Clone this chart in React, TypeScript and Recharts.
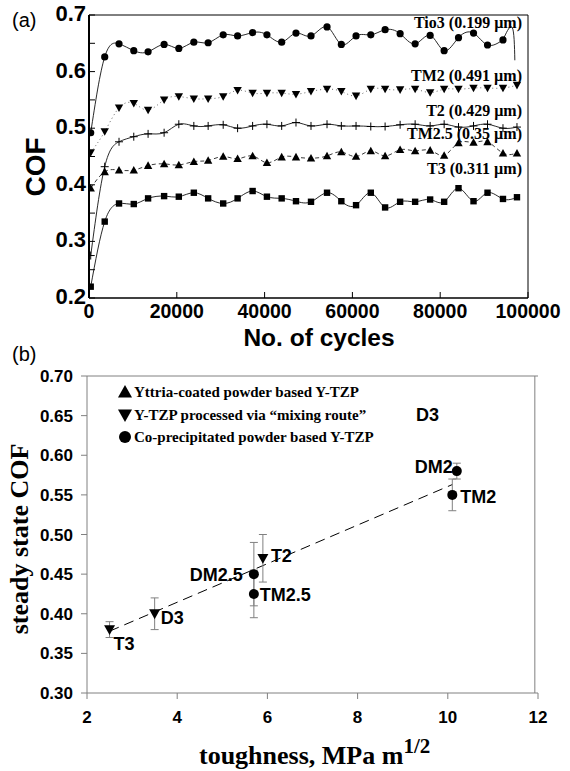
import React from 'react';
import { ComposedChart, Line, Scatter, XAxis, YAxis, ErrorBar, ReferenceLine } from 'recharts';

const SANS = '"Liberation Sans", Arial, sans-serif';
const SERIF = '"Liberation Serif", "Times New Roman", serif';

// (a) COF against number of cycles
const cycles = [390, 3580, 6840, 10200, 13460, 17110, 20460, 23880, 27140, 30570, 33850, 37270, 40530, 43890, 47150,
  50570, 54220, 57480, 60830, 64190, 67450, 70870, 74290, 77710, 80900, 84170, 87590, 90780, 94300, 97490];

const tio3 = [0.492, 0.626, 0.649, 0.637, 0.635, 0.648, 0.641, 0.652, 0.651, 0.665, 0.663, 0.669, 0.665, 0.652, 0.668,
  0.663, 0.679, 0.648, 0.663, 0.665, 0.674, 0.667, 0.649, 0.664, 0.637, 0.660, 0.668, 0.647, 0.656];
const tio3TailCycles = [94300, 96400, 97000];
const tio3TailCof = [0.656, 0.678, 0.62];
const tm2 = [0.457, 0.494, 0.536, 0.544, 0.532, 0.550, 0.556, 0.552, 0.552, 0.556, 0.567, 0.562, 0.562, 0.562, 0.560,
  0.565, 0.569, 0.565, 0.557, 0.569, 0.569, 0.568, 0.569, 0.563, 0.569, 0.569, 0.571, 0.571, 0.571, 0.576];
const t2 = [0.275, 0.432, 0.476, 0.485, 0.490, 0.492, 0.507, 0.504, 0.504, 0.506, 0.500, 0.504, 0.507, 0.504, 0.510,
  0.504, 0.507, 0.504, 0.504, 0.503, 0.503, 0.506, 0.507, 0.504, 0.507, 0.502, 0.504, 0.507, 0.500, 0.502];
const tm25 = [0.394, 0.423, 0.426, 0.426, 0.434, 0.437, 0.435, 0.441, 0.443, 0.450, 0.446, 0.451, 0.439, 0.449, 0.449,
  0.447, 0.451, 0.458, 0.450, 0.460, 0.451, 0.462, 0.460, 0.461, 0.452, 0.474, 0.475, 0.476, 0.456, 0.456];
const t3 = [0.220, 0.335, 0.367, 0.366, 0.376, 0.380, 0.379, 0.386, 0.376, 0.367, 0.376, 0.389, 0.379, 0.376, 0.371,
  0.370, 0.386, 0.371, 0.364, 0.386, 0.360, 0.370, 0.370, 0.374, 0.370, 0.394, 0.371, 0.386, 0.375, 0.378];

const xTicksA = [0, 20000, 40000, 60000, 80000, 100000];
const yTicksA = [0.2, 0.25, 0.3, 0.35, 0.4, 0.45, 0.5, 0.55, 0.6, 0.65, 0.7];
const curveLabels = ['Tio3 (0.199 µm)', 'TM2 (0.491 µm)', 'T2 (0.429 µm)', 'TM2.5 (0.35 µm)', 'T3 (0.311 µm)'];

// (b) steady state COF against toughness
const mixNames = ['T3', 'D3', 'T2'];
const mixTough = [2.5, 3.5, 5.9];
const mixCof = [0.38, 0.40, 0.47];
const mixErr = [0.01, 0.02, 0.03];
const coNames = ['DM2.5', 'TM2.5', 'DM2', 'TM2'];
const coTough = [5.7, 5.7, 10.2, 10.1];
const coCof = [0.45, 0.425, 0.58, 0.55];
const coErr = [0.04, 0.03, 0.01, 0.02];
const trendTough = [2.5, 10.1];
const trendCof = [0.378, 0.563];
const legendItems = ['Yttria-coated powder based Y-TZP', 'Y-TZP processed via “mixing route”', 'Co-precipitated powder based Y-TZP'];
const xTicksB = [2, 4, 6, 8, 10, 12];
const yTicksB = [0.3, 0.35, 0.4, 0.45, 0.5, 0.55, 0.6, 0.65, 0.7];

const pts = (xs: number[], ys: number[]) => ys.map((y, i) => ({ x: xs[i], y }));
const ptsErr = (names: string[], xs: number[], ys: number[], errs: number[]) =>
  names.map((name, i) => ({ name, x: xs[i], y: ys[i], err: errs[i] }));

// label offsets next to the markers in (b)
const labelPlace: Record<string, [number, number, 'start' | 'end']> = {
  T3: [4, 14, 'start'],
  D3: [6, 4, 'start'],
  T2: [8, -3, 'start'],
  'DM2.5': [-11, 0, 'end'],
  'TM2.5': [6, 1, 'start'],
  DM2: [-4, -5, 'end'],
  TM2: [8, 2, 'start'],
};

const triPath = (cx: number, cy: number, s: number, down: boolean) =>
  down
    ? `M${cx - s},${cy - s * 0.8}L${cx + s},${cy - s * 0.8}L${cx},${cy + s}Z`
    : `M${cx - s},${cy + s * 0.8}L${cx + s},${cy + s * 0.8}L${cx},${cy - s}Z`;

type Kind = 'circle' | 'down' | 'up' | 'square' | 'plus';

const makeDot = (kind: Kind) => (p: any) => {
  const { cx, cy, index } = p;
  if (cx == null || cy == null) return <g key={index} />;
  if (kind === 'circle') return <circle key={index} cx={cx} cy={cy} r={3.6} fill="#000" />;
  if (kind === 'square') return <rect key={index} x={cx - 3.2} y={cy - 3.2} width={6.4} height={6.4} fill="#000" />;
  if (kind === 'plus')
    return (
      <path key={index} d={`M${cx - 4},${cy}H${cx + 4}M${cx},${cy - 4}V${cy + 4}`} stroke="#000" strokeWidth={1} />
    );
  return <path key={index} d={triPath(cx, cy, 4.2, kind === 'down')} fill="#000" />;
};

const CofTick = (p: any) => {
  const v = p.payload.value;
  const major = Math.round(v * 100) % 10 === 0;
  return (
    <g>
      <line x1={p.x} x2={p.x + 6} y1={p.y} y2={p.y} stroke="#000" strokeWidth={1} />
      {major && (
        <text x={p.x - 3} y={p.y - 2} dy="0.36em" textAnchor="end" fontFamily={SANS} fontWeight="bold" fontSize={22} fill="#000">
          {v.toFixed(1)}
        </text>
      )}
    </g>
  );
};

const CycleTick = (p: any) => (
  <g>
    <line x1={p.x} x2={p.x} y1={p.y} y2={p.y - 6} stroke="#000" strokeWidth={1} />
    <text x={p.x} y={p.y + 20} textAnchor="middle" fontFamily={SANS} fontWeight="bold" fontSize={19.5} fill="#000">
      {p.payload.value}
    </text>
  </g>
);

const pointShape = (down: boolean) => (p: any) => {
  const { cx, cy, payload } = p;
  const [dx, dy, anchor] = labelPlace[payload.name];
  return (
    <g>
      {down ? <path d={triPath(cx, cy, 5.5, true)} fill="#000" /> : <circle cx={cx} cy={cy} r={5} fill="#000" />}
      <text x={cx + dx} y={cy + dy} dy="0.36em" textAnchor={anchor} fontFamily={SANS} fontWeight="bold" fontSize={18} fill="#000">
        {payload.name}
      </text>
    </g>
  );
};

function PanelA() {
  const lines = [
    { key: 'tio3', data: pts(cycles, tio3), kind: 'circle' as Kind, dash: undefined, color: '#111' },
    { key: 'tm2', data: pts(cycles, tm2), kind: 'down' as Kind, dash: '1 3', color: '#555' },
    { key: 't2', data: pts(cycles, t2), kind: 'plus' as Kind, dash: undefined, color: '#111' },
    { key: 'tm25', data: pts(cycles, tm25), kind: 'up' as Kind, dash: '4 3', color: '#222' },
    { key: 't3', data: pts(cycles, t3), kind: 'square' as Kind, dash: undefined, color: '#111' },
  ];
  return (
    <ComposedChart width={570} height={340} margin={{ top: 15, right: 42, bottom: 0, left: 0 }}>
      <XAxis
        type="number"
        dataKey="x"
        domain={[0, 100000]}
        ticks={xTicksA}
        height={42}
        tickSize={0}
        tickMargin={0}
        tickLine={false}
        tick={CycleTick}
        axisLine={{ stroke: '#000', strokeWidth: 1.5 }}
        allowDataOverflow
      />
      <YAxis
        type="number"
        domain={[0.2, 0.7]}
        ticks={yTicksA}
        width={89}
        tickSize={0}
        tickMargin={0}
        tickLine={false}
        tick={CofTick}
        axisLine={{ stroke: '#000', strokeWidth: 2 }}
        allowDataOverflow
      />
      <ReferenceLine y={0.7} stroke="#000" strokeWidth={1} />
      <ReferenceLine x={100000} stroke="#000" strokeWidth={1} />
      {lines.map((l) => (
        <Line
          key={l.key}
          data={l.data}
          dataKey="y"
          type="natural"
          stroke={l.color}
          strokeWidth={0.9}
          strokeDasharray={l.dash}
          dot={makeDot(l.kind)}
          activeDot={false}
          isAnimationActive={false}
        />
      ))}
      <Line
        data={pts(tio3TailCycles, tio3TailCof)}
        dataKey="y"
        type="natural"
        stroke="#111"
        strokeWidth={0.9}
        dot={false}
        activeDot={false}
        isAnimationActive={false}
      />
    </ComposedChart>
  );
}

function PanelB() {
  return (
    <ComposedChart width={570} height={431} margin={{ top: 36, right: 32, bottom: 0, left: 0 }}>
      <XAxis
        type="number"
        dataKey="x"
        domain={[2, 12]}
        ticks={xTicksB}
        height={78}
        tickSize={6}
        tickMargin={12}
        tickLine={{ stroke: '#808080' }}
        axisLine={{ stroke: '#808080' }}
        tick={{ fill: '#000', fontSize: 17, fontWeight: 'bold', fontFamily: SANS }}
      />
      <YAxis
        type="number"
        dataKey="y"
        domain={[0.3, 0.7]}
        ticks={yTicksB}
        width={87}
        tickSize={6}
        tickMargin={8}
        tickFormatter={(v: number) => v.toFixed(2)}
        tickLine={{ stroke: '#808080' }}
        axisLine={{ stroke: '#808080' }}
        tick={{ fill: '#000', fontSize: 17, fontWeight: 'bold', fontFamily: SANS }}
      />
      <ReferenceLine y={0.7} stroke="#808080" />
      <ReferenceLine x={11.93} stroke="#808080" />
      <Line
        data={pts(trendTough, trendCof)}
        dataKey="y"
        type="linear"
        stroke="#000"
        strokeWidth={1}
        strokeDasharray="10 6"
        dot={false}
        activeDot={false}
        isAnimationActive={false}
      />
      <Scatter data={ptsErr(mixNames, mixTough, mixCof, mixErr)} shape={pointShape(true)} isAnimationActive={false}>
        <ErrorBar dataKey="err" direction="y" width={4} stroke="#808080" strokeWidth={1} />
      </Scatter>
      <Scatter data={ptsErr(coNames, coTough, coCof, coErr)} shape={pointShape(false)} isAnimationActive={false}>
        <ErrorBar dataKey="err" direction="y" width={4} stroke="#808080" strokeWidth={1} />
      </Scatter>
    </ComposedChart>
  );
}

const legendMarks: Kind[] = ['up', 'down', 'circle'];

export default function App() {
  return (
    <div style={{ position: 'absolute', left: 0, top: 0, width: 570, height: 771, background: '#fff', overflow: 'hidden' }}>
      <div style={{ position: 'absolute', left: 0, top: 0 }}>
        <PanelA />
      </div>
      <div style={{ position: 'absolute', left: 0, top: 340 }}>
        <PanelB />
      </div>
      <svg width={570} height={771} style={{ position: 'absolute', left: 0, top: 0, pointerEvents: 'none' }}>
        <text x={12} y={27} fontFamily={SANS} fontSize={20} fill="#000">(a)</text>
        <text x={12} y={361} fontFamily={SANS} fontSize={20} fill="#000">(b)</text>
        <text transform="translate(45,167) rotate(-90)" textAnchor="middle" fontFamily={SANS} fontWeight="bold" fontSize={28} fill="#000">
          COF
        </text>
        <text x={319} y={346} textAnchor="middle" fontFamily={SANS} fontWeight="bold" fontSize={24.5} fill="#000">
          No. of cycles
        </text>
        {curveLabels.map((s, i) => (
          <text key={s} x={522} y={[28, 81, 116, 139, 174][i]} textAnchor="end" fontFamily={SERIF} fontWeight="bold" fontSize={16} fill="#000">
            {s}
          </text>
        ))}
        <text transform="translate(28,539) rotate(-90)" textAnchor="middle" fontFamily={SERIF} fontWeight="bold" fontSize={26} fill="#000">
          steady state COF
        </text>
        <text x={199} y={764} fontFamily={SERIF} fontWeight="bold" fontSize={26} fill="#000">
          toughness, MPa m
          <tspan fontSize={21} dy={-11}>1/2</tspan>
        </text>
        {legendItems.map((s, i) => {
          const cy = [392, 415, 437][i];
          const k = legendMarks[i];
          return (
            <g key={s}>
              {k === 'circle' ? (
                <circle cx={125} cy={cy} r={6} fill="#000" />
              ) : (
                <path d={triPath(125, cy, 7, k === 'down')} fill="#000" />
              )}
              <text x={134} y={cy + 5} fontFamily={SERIF} fontWeight="bold" fontSize={15} fill="#000">
                {s}
              </text>
            </g>
          );
        })}
        <text x={416} y={421} fontFamily={SANS} fontWeight="bold" fontSize={18} fill="#000">D3</text>
      </svg>
    </div>
  );
}
